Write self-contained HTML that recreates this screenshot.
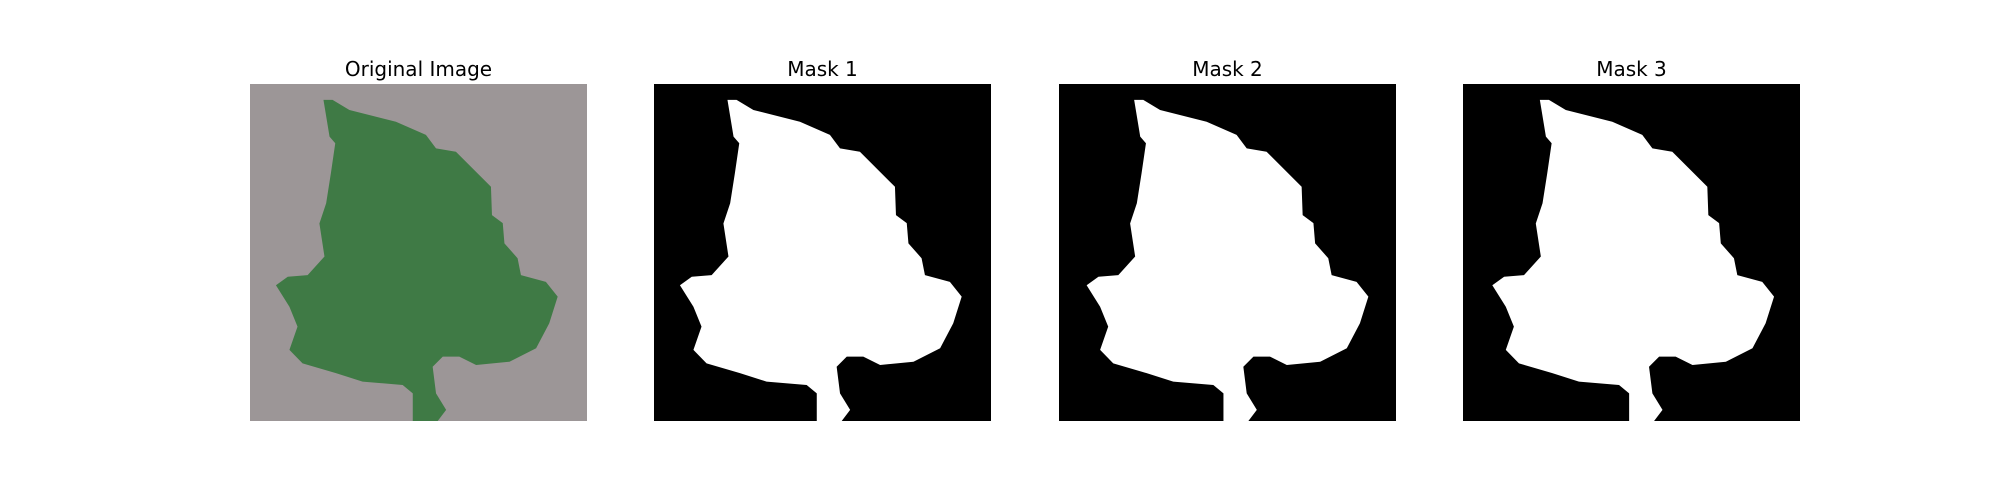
<!DOCTYPE html>
<html><head><meta charset="utf-8"><style>
body{margin:0;background:#fff;width:2000px;height:500px;overflow:hidden;font-family:"DejaVu Sans","Liberation Sans",sans-serif}
.t{position:absolute;font-size:20px;color:#000;text-align:center;width:337px;top:57px}
svg{position:absolute;top:84px}
</style></head><body>
<div class="t" style="left:250px">Original Image</div>
<div class="t" style="left:654px">Mask 1</div>
<div class="t" style="left:1059px">Mask 2</div>
<div class="t" style="left:1463px">Mask 3</div>
<svg id="p0" style="left:250px" width="337" height="337" viewBox="0 0 1 1" preserveAspectRatio="none"></svg>
<svg id="p1" style="left:654px" width="337" height="337" viewBox="0 0 1 1" preserveAspectRatio="none"></svg>
<svg id="p2" style="left:1059px" width="337" height="337" viewBox="0 0 1 1" preserveAspectRatio="none"></svg>
<svg id="p3" style="left:1463px" width="337" height="337" viewBox="0 0 1 1" preserveAspectRatio="none"></svg>
<script>
const leafX=[.218,.245,.295,.433,.522,.552,.611,.715,.718,.750,.755,.794,.804,.878,.913,.888,.849,.770,.671,.621,.572,.542,.552,.582,.557,.483,.483,.453,.334,.255,.156,.117,.141,.117,.077,.112,.171,.221,.206,.226,.240,.253,.236];
const leafY=[.047,.047,.077,.112,.151,.191,.201,.305,.389,.413,.473,.517,.567,.587,.631,.710,.784,.824,.834,.809,.809,.839,.918,.967,1,1,.918,.893,.883,.858,.829,.789,.720,.661,.597,.572,.567,.512,.414,.354,.265,.176,.156];
const ns='http://www.w3.org/2000/svg';
function pts(dx){return leafX.map((x,i)=>(x+dx)+','+leafY[i]).join(' ');}
const cfg=[['#9c9697','#3f7a45',0],['#000','#fff',0],['#000','#fff',0.005],['#000','#fff',0.01]];
cfg.forEach((c,k)=>{
  const s=document.getElementById('p'+k);
  const r=document.createElementNS(ns,'rect');
  
  
  r.setAttribute('width',1);r.setAttribute('height',1);r.setAttribute('fill',c[0]);
  s.appendChild(r);
  const p=document.createElementNS(ns,'polygon');
  
  
  p.setAttribute('points',pts(c[2]));p.setAttribute('fill',c[1]);
  s.appendChild(p);
});
</script>
</body></html>
